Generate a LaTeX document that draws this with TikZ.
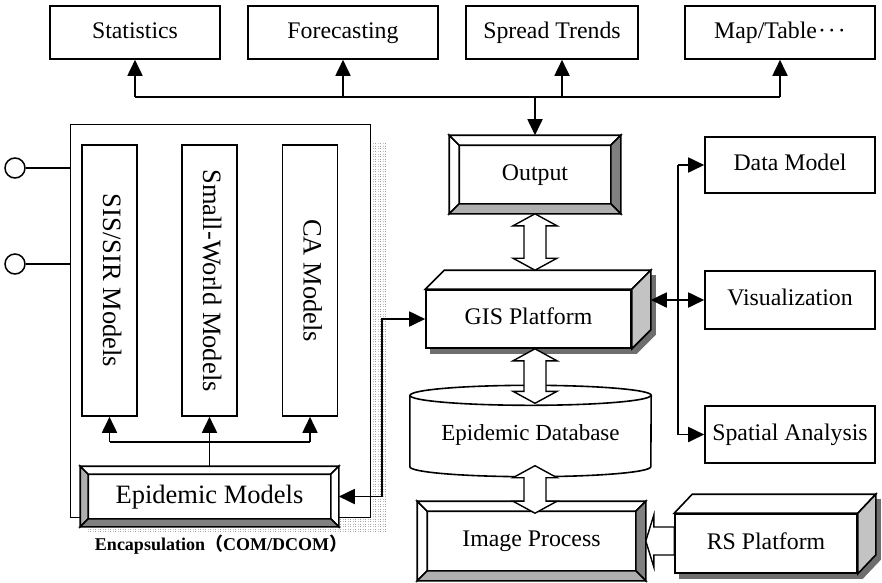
\documentclass[tikz,border=0pt]{standalone}
\usepackage{fontspec}
\setmainfont{Liberation Serif}
\newfontfamily\cjkfont{Noto Sans CJK SC}
\usetikzlibrary{calc,arrows.meta,patterns,backgrounds}
\pgfdeclarepatternformonly{fdots}{\pgfpointorigin}{\pgfqpoint{1pt}{1pt}}{\pgfqpoint{2.5pt}{2.5pt}}{\pgfpathrectangle{\pgfpointorigin}{\pgfqpoint{1pt}{1pt}}\pgfusepath{fill}}
\definecolor{bevdark}{RGB}{128,128,128}
\definecolor{bevlight}{RGB}{175,175,175}
\definecolor{sidec}{RGB}{195,195,195}
\definecolor{shadowc}{RGB}{110,110,110}
\newcommand\bevelframe[6]{%
  \draw[bevline,fill=#3] (#1.north west) -- ($(#1.north west)+(#2,#2)$) -- ($(#1.south west)+(#2,-#2)$) -- (#1.south west) -- cycle;
  \draw[bevline,fill=#4] (#1.north west) -- ($(#1.north west)+(#2,#2)$) -- ($(#1.north east)+(-#2,#2)$) -- (#1.north east) -- cycle;
  \draw[bevline,fill=#5] (#1.north east) -- ($(#1.north east)+(-#2,#2)$) -- ($(#1.south east)+(-#2,-#2)$) -- (#1.south east) -- cycle;
  \draw[bevline,fill=#6] (#1.south west) -- ($(#1.south west)+(#2,-#2)$) -- ($(#1.south east)+(-#2,-#2)$) -- (#1.south east) -- cycle;
}
\newcommand\boxthreed[3]{%
  \begin{pgfonlayer}{background}
  \fill[shadowc] ($(#1.north west)+(5,5)$) -- ($(#1.north west)+(#2+5,-#3+5)$) -- ($(#1.north east)+(#2+5,-#3+5)$) -- ($(#1.south east)+(#2+5,-#3+5)$) -- ($(#1.south east)+(5,5)$) -- ($(#1.south west)+(5,5)$) -- cycle;
  \end{pgfonlayer}
  \draw[bevline,fill=white] (#1.north west) -- ($(#1.north west)+(#2,-#3)$) -- ($(#1.north east)+(#2,-#3)$) -- (#1.north east) -- cycle;
  \draw[bevline,fill=sidec] (#1.north east) -- ($(#1.north east)+(#2,-#3)$) -- ($(#1.south east)+(#2,-#3)$) -- (#1.south east) -- cycle;
}
\newcommand\hollowdv[2]{%
  \path[hollow] let \p1=#1, \p2=#2 in (\x1,\y1) -- (\x1+22pt,\y1-12pt) -- (\x1+11pt,\y1-12pt) -- (\x1+11pt,\y2+12pt) -- (\x1+22pt,\y2+12pt) -- (\x1,\y2) -- (\x1-22pt,\y2+12pt) -- (\x1-11pt,\y2+12pt) -- (\x1-11pt,\y1-12pt) -- (\x1-22pt,\y1-12pt) -- cycle;
}
\begin{document}
\begin{tikzpicture}[x=1pt,y=-1pt,
  box/.style={draw, line width=1.6pt, fill=white, inner sep=0pt, text height=16pt, text depth=5pt, font=\fontsize{23.8}{28}\selectfont},
  bigtxt/.style={font=\fontsize{26.5}{30}\selectfont, text height=18pt, text depth=5pt},
  bevline/.style={line width=1.6pt, line join=miter},
  ln/.style={line width=1.8pt},
  arr/.style={line width=1.8pt, -{Triangle[length=16pt,width=15pt]}},
  dbl/.style={line width=1.8pt, {Triangle[length=16pt,width=15pt]}-{Triangle[length=16pt,width=15pt]}},
  hollow/.style={draw, fill=white, line width=1.4pt, line join=miter}]
\useasboundingbox (0,0) rectangle (882,582);

% top output boxes
\node[box, minimum width=170pt, minimum height=53pt] (stat) at (135,32.5) {Statistics};
\node[box, minimum width=190pt, minimum height=53pt] (fore) at (343,32.5) {Forecasting};
\node[box, minimum width=172pt, minimum height=53pt] (spread) at (552,32.5) {Spread Trends};
\node[box, minimum width=190pt, minimum height=53pt] (map) at (780,32.5) {Map/Table\kern1pt\textperiodcentered\kern2pt\textperiodcentered\kern2pt\textperiodcentered};
\coordinate (bus) at (0,97);
\coordinate (spx) at (562,0);
\draw[ln] (stat.south |- bus) -- (map.south |- bus);
\draw[arr] (stat.south |- bus) -- (stat.south);
\draw[arr] (fore.south |- bus) -- (fore.south);
\draw[arr] (spx |- bus) -- (spx |- spread.south);
\draw[arr] (map.south |- bus) -- (map.south);

% Output
\node[box, minimum width=170pt, minimum height=77pt] (out) at (535,174.5) {Output};
\bevelframe{out}{10}{white}{white}{bevdark}{bevlight}
\draw[arr] (out.north |- bus) -- (out.north);

% left frame
\node[draw, line width=1pt, minimum width=300pt, minimum height=393pt, inner sep=0pt] (frame) at (220,320.5) {};
\begin{pgfonlayer}{background}
\fill[pattern=fdots, pattern color=gray!75] ($(frame.north east)+(0,19)$) -- ($(frame.north east)+(16,19)$) -- ($(frame.south east)+(16,16)$) -- ($(frame.south west)+(18,16)$) -- ($(frame.south west)+(18,0)$) -- (frame.south east) -- cycle;
\end{pgfonlayer}
\node[circle, draw, line width=1.5pt, minimum size=20pt, inner sep=0pt] (c1) at (15,168) {};
\node[circle, draw, line width=1.5pt, minimum size=20pt, inner sep=0pt] (c2) at (15,264) {};
\draw[ln] (c1.east) -- (c1.east -| frame.west);
\draw[ln] (c2.east) -- (c2.east -| frame.west);

\node[box, minimum width=55pt, minimum height=271pt] (sis) at (109.5,280.5) {};
\node[bigtxt, rotate=-90] (sist) at (sis.center) {SIS/SIR Models};
\node[box, minimum width=55pt, minimum height=271pt] (sw) at (209.5,280.5) {};
\node[bigtxt, rotate=-90] (swt) at (sw.center) {Small-World Models};
\node[box, minimum width=55pt, minimum height=271pt] (ca) at (310,280.5) {};
\node[bigtxt, rotate=-90] (cat) at (ca.center) {CA Models};

\node[box, bigtxt, minimum width=257pt, minimum height=59pt] (em) at (209.5,496.5) {Epidemic Models};
\bevelframe{em}{8}{bevlight}{white}{white}{bevdark}
\coordinate (mb) at (0,442);
\draw[ln] (sis.south |- mb) -- (ca.south |- mb);
\draw[arr] (sis.south |- mb) -- (sis.south);
\draw[arr] (ca.south |- mb) -- (ca.south);
\draw[arr] (em.north) -- (sw.south);
\node[font=\fontsize{18}{22}\selectfont\bfseries] (enc) at (221,545) {Encapsulation{\cjkfont （}COM/DCOM{\cjkfont ）}};

% GIS platform
\node[box, minimum width=205pt, minimum height=58pt] (gis) at (528.5,319) {GIS Platform};
\boxthreed{gis}{19}{19}
\coordinate (gistop) at ($(gis.north)+(0,-19)$);
\coordinate (gisr) at ($(gis.east)+(19,-19)$);
\coordinate (ax) at (535,0);
\coordinate (elb) at (382,0);
\draw[dbl] (em.east) -- (em.east -| elb) |- (gis.west);

% right boxes
\node[box, minimum width=170pt, minimum height=56pt] (dm) at (790,165) {Data Model};
\node[box, minimum width=170pt, minimum height=58pt] (vis) at (790,300) {Visualization};
\node[box, minimum width=170pt, minimum height=57pt] (sa) at (790,434.5) {Spatial Analysis};
\coordinate (bx) at (678,0);
\draw[ln] (bx |- dm.west) -- (bx |- sa.west);
\draw[arr] (bx |- dm.west) -- (dm.west);
\draw[arr] (bx |- vis.west) -- (vis.west);
\draw[arr] (bx |- sa.west) -- (sa.west);
\draw[arr] (bx |- vis.west) -- (gisr);

% database
\node[inner sep=0pt, minimum width=241pt, minimum height=91pt] (db) at (530.5,431) {};
\draw[line width=1.6pt, fill=white] ($(db.north west)+(0,10)$) -- ($(db.south west)+(0,-10)$) arc[start angle=180, end angle=360, x radius=120.5pt, y radius=10pt] -- ($(db.north east)+(0,10)$) arc[start angle=0, end angle=180, x radius=120.5pt, y radius=10pt] -- cycle;
\draw[line width=1.6pt] ($(db.north west)+(0,10)$) arc[start angle=180, end angle=360, x radius=120.5pt, y radius=10pt];
\node[font=\fontsize{23}{27}\selectfont, text height=16pt, text depth=5pt] (dbt) at ($(db.center)+(0,4)$) {Epidemic Database};

% image process + RS platform
\node[box, minimum width=227pt, minimum height=78pt] (img) at (531.5,541) {Image Process};
\bevelframe{img}{10}{white}{white}{bevdark}{bevlight}
\node[box, minimum width=182pt, minimum height=59pt] (rs) at (766,543.5) {RS Platform};
\boxthreed{rs}{18}{19}

% hollow arrows
\hollowdv{(out.south -| ax)}{(gistop -| ax)}
\hollowdv{(gis.south -| ax)}{($(db.north -| ax)+(0,18)$)}
\hollowdv{($(db.south -| ax)+(0,-11)$)}{($(img.north -| ax)+(0,12)$)}
\path[hollow] let \p1=(img.east), \p2=(rs.west) in (\x1,\y1) -- (\x1+8pt,\y1+26pt) -- (\x1+8pt,\y1+14pt) -- (\x2,\y1+14pt) -- (\x2,\y1-14pt) -- (\x1+8pt,\y1-14pt) -- (\x1+8pt,\y1-26pt) -- cycle;
\end{tikzpicture}
\end{document}
